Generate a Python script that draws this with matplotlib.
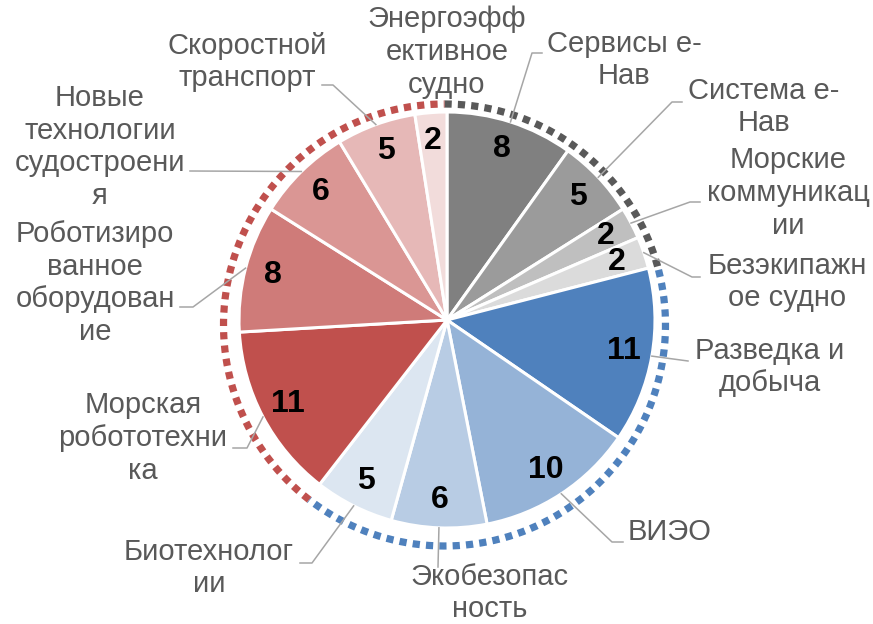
import numpy as np
import matplotlib.pyplot as plt

plt.rcParams['font.family'] = ['Liberation Sans', 'DejaVu Sans']

# данные (по часовой стрелке от 12 часов)
labels = ["Сервисы е-\nНав", "Система е-\nНав", "Морские\nкоммуникац\nии",
          "Безэкипажн\nое судно", "Разведка и\nдобыча", "ВИЭО",
          "Экобезопас\nность", "Биотехнолог\nии", "Морская\nробототехни\nка",
          "Роботизиро\nванное\nоборудован\nие", "Новые\nтехнологии\nсудостроени\nя",
          "Скоростной\nтранспорт", "Энергоэфф\nективное\nсудно"]
values = [8, 5, 2, 2, 11, 10, 6, 5, 11, 8, 6, 5, 2]
groups = [0, 0, 0, 0, 1, 1, 1, 1, 2, 2, 2, 2, 2]

colors = ['#808080', '#9B9B9B', '#BFBFBF', '#DBDBDB',
          '#4F81BD', '#95B3D7', '#B8CCE4', '#DCE6F1',
          '#C0504D', '#CF7B79', '#DA9694', '#E6B8B7', '#F2DCDB']
ring_colors = ['#595959', '#4F81BD', '#C0504D']

# раскладка в пикселях (центр круга 447,320; радиус 208)
CX, CY, R = 447, 320, 208
W, H = 873, 624


def px(x, y):
    return (x - CX) / R, (CY - y) / R


label_pos = [(624, 60), (764, 107), (788, 193), (787, 282), (770, 367),
             (670, 532), (490, 593), (209, 568), (143, 438), (95, 283),
             (100, 147), (247, 62), (447, 52)]
leader_pts = [[(532, 53), (542, 53)], [(672, 102), (682, 102)],
              [(690, 202), (700, 202)], [(692, 277), (700, 277)],
              [(688, 361)], [(612, 542), (623, 542)], [(438, 567)],
              [(312, 563), (300, 563)], [(247, 448), (233, 448)],
              [(193, 307), (180, 307)], [(190, 171)], [(333, 85), (322, 85)],
              []]

fig = plt.figure(figsize=(W / 100, H / 100), dpi=100)
ax = fig.add_axes([0, 0, 1, 1])
ax.axis('off')

total = sum(values)
wedges, _, autotexts = ax.pie(values, colors=colors, startangle=90, counterclock=False,
                              radius=1.0, autopct=lambda p: '%d' % round(p * total / 100),
                              pctdistance=0.865,
                              wedgeprops=dict(edgecolor='white', linewidth=2.2),
                              textprops=dict(fontsize=23, fontweight='bold', color='black'))

ax.set_xlim(px(0, 0)[0], px(W, 0)[0])
ax.set_ylim(px(0, H)[1], px(0, 0)[1])
ax.set_aspect('auto')

# пунктирное кольцо по группам
cum = np.concatenate([[0], np.cumsum(values)])
ring_r = 221 / R
ring_c = px(444.5, 325)
for g in range(3):
    idx = [i for i, gg in enumerate(groups) if gg == g]
    a0 = cum[idx[0]] / total * 2 * np.pi
    a1 = cum[idx[-1] + 1] / total * 2 * np.pi
    th = np.linspace(a0, a1, 300)
    ax.plot(ring_c[0] + ring_r * np.sin(th), ring_c[1] + ring_r * np.cos(th),
            color=ring_colors[g], lw=5.2, linestyle=(0, (1, 0.85)),
            dash_capstyle='butt', solid_capstyle='butt')

# подписи и выноски
for i, lab in enumerate(labels):
    mid = (cum[i] + values[i] / 2) / total * 2 * np.pi
    if leader_pts[i]:
        xs = [np.sin(mid)] + [px(*p)[0] for p in leader_pts[i]]
        ys = [np.cos(mid)] + [px(*p)[1] for p in leader_pts[i]]
        ax.plot(xs, ys, color='#A6A6A6', lw=1.1)
    tx, ty = px(*label_pos[i])
    ax.text(tx, ty, lab, ha='center', va='center', multialignment='center',
            fontsize=21, color='#595959', linespacing=1.22)

plt.savefig('out.png', dpi=100)
